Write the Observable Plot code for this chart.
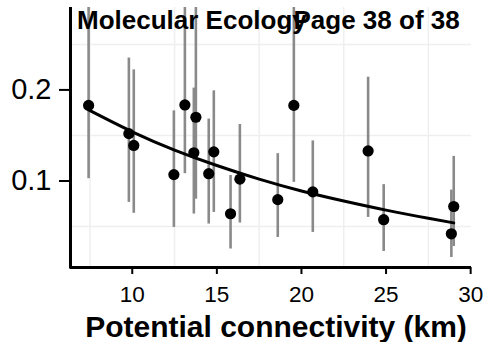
<!DOCTYPE html>
<html>
<head>
<meta charset="utf-8">
<script src="https://cdn.jsdelivr.net/npm/d3@7"></script>
<script src="https://cdn.jsdelivr.net/npm/@observablehq/plot@0.6"></script>
<style>
  html, body { margin: 0; padding: 0; background: #fff; }
  #chart svg { display: block; font-family: "Liberation Sans", Arial, Helvetica, sans-serif; }
</style>
</head>
<body>
<div id="chart"></div>
<script>
// Data
const connectivity = [7.42, 9.80, 10.09, 12.46, 13.11, 13.64, 13.76, 14.52, 14.82, 15.81, 16.36, 18.60, 19.55, 20.67, 23.94, 24.86, 28.86, 29.00];
const estimate     = [0.183, 0.152, 0.139, 0.107, 0.1835, 0.131, 0.170, 0.108, 0.132, 0.064, 0.102, 0.0795, 0.183, 0.088, 0.133, 0.0575, 0.042, 0.072];
const lowerCI      = [0.1025, 0.0765, 0.0645, 0.049, 0.108, 0.0637, 0.080, 0.0527, 0.0655, 0.0253, 0.0538, 0.038, 0.0985, 0.0435, 0.060, 0.0226, 0.016, 0.028];
const upperCI      = [0.30, 0.235, 0.222, 0.177, 0.30, 0.202, 0.30, 0.168, 0.199, 0.106, 0.162, 0.130, 0.30, 0.144, 0.214, 0.096, 0.090, 0.127];

// Fitted curve
const fitX = [7.42, 10, 12.5, 15, 17.5, 20, 22.5, 25, 27.5, 29.0];
const fitY = [0.178, 0.154, 0.134, 0.117, 0.102, 0.089, 0.078, 0.068, 0.059, 0.054];

const xTicks = [10, 15, 20, 25, 30];
const yTicks = [0.1, 0.2];
const xMinorGrid = [7.5, 12.5, 17.5, 22.5, 27.5];
const yMinorGrid = [0.05, 0.15, 0.25];
const xDomain = [6.35, 30.05];
const yDomain = [0.005, 0.2905];

const titleLeft = "Molecular Ecology";
const titleRight = "Page 38 of 38";
const xLabel = "Potential connectivity (km)";

const points = connectivity.map((x, i) => ({x, y: estimate[i], lo: lowerCI[i], hi: upperCI[i]}));
const fit = fitX.map((x, i) => ({x, y: fitY[i]}));

const chart = Plot.plot({
  width: 484,
  height: 342,
  marginLeft: 70,
  marginRight: 13,
  marginTop: 7,
  marginBottom: 75,
  style: {background: "#fff", fontFamily: "'Liberation Sans', Arial, sans-serif", color: "#000"},
  x: {domain: xDomain, axis: null},
  y: {domain: yDomain, axis: null},
  marks: [
    Plot.ruleX(xMinorGrid, {stroke: "#efefef", strokeWidth: 1.5}),
    Plot.ruleY(yMinorGrid, {stroke: "#efefef", strokeWidth: 1.5}),
    Plot.ruleX(points, {x: "x", y1: "lo", y2: "hi", stroke: "#8a8a8a", strokeWidth: 2.6, clip: true}),
    Plot.line(fit, {x: "x", y: "y", stroke: "#000", strokeWidth: 3, curve: "natural"}),
    Plot.dot(points, {x: "x", y: "y", r: 5.6, fill: "#000", stroke: "none"}),
    Plot.axisY({ticks: yTicks, tickFormat: d3.format(".1f"), tickSize: 11, tickPadding: 8, fontSize: 29, strokeWidth: 2, label: null}),
    Plot.axisX({ticks: xTicks, tickFormat: d => d, tickSize: 7, tickPadding: 12, fontSize: 22.5, strokeWidth: 2, label: null}),
    Plot.ruleX([xDomain[0]], {stroke: "#000", strokeWidth: 3, insetBottom: -1.5}),
    Plot.ruleY([yDomain[0]], {stroke: "#000", strokeWidth: 3}),
    Plot.text([xLabel], {frameAnchor: "bottom", dx: 5, dy: 60, fontSize: 30, fontWeight: "bold", lineAnchor: "middle", fill: "#000"}),
    Plot.text([titleLeft], {frameAnchor: "top-left", dx: 6.5, dy: 3.5, fontSize: 26, fontWeight: "bold", textAnchor: "start", lineAnchor: "top", fill: "#000"}),
    Plot.text([titleRight], {frameAnchor: "top-left", dx: 223, dy: 3.5, fontSize: 26, fontWeight: "bold", textAnchor: "start", lineAnchor: "top", fill: "#000"})
  ]
});
document.getElementById("chart").appendChild(chart);
</script>
</body>
</html>
